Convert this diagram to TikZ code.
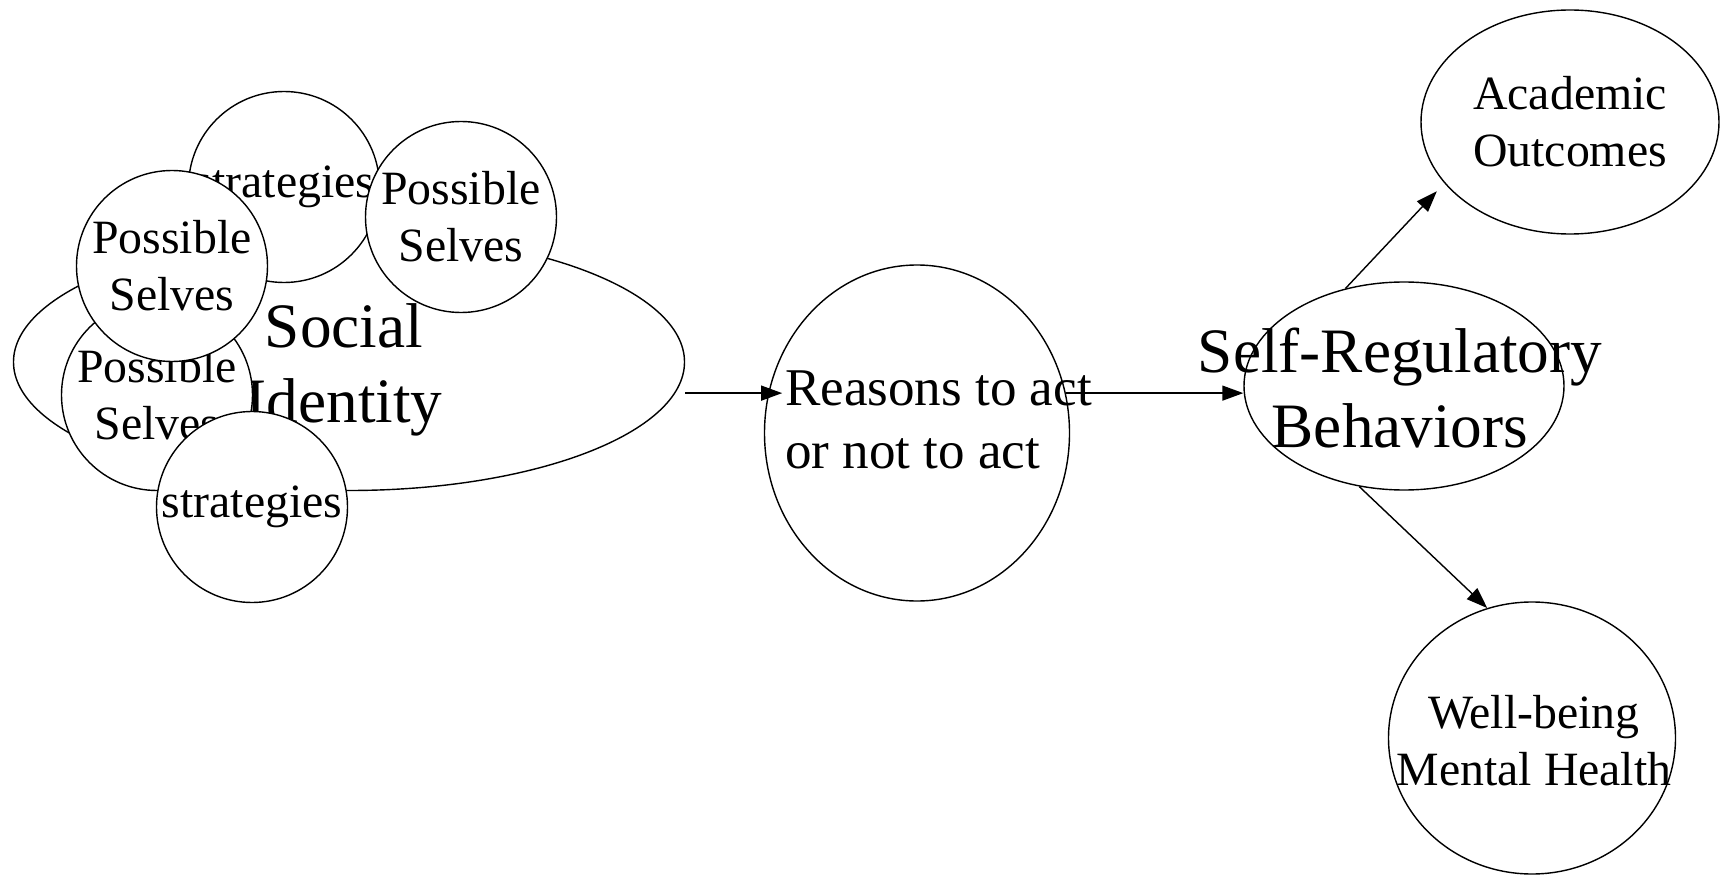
\documentclass[tikz,border=0pt]{standalone}
\usepackage{fontspec}
\setmainfont{Liberation Serif}
\usetikzlibrary{shapes.geometric,arrows.meta}

\begin{document}
\begin{tikzpicture}[
    bubble/.style={draw, ellipse, inner sep=0pt},
    ring/.style={draw, circle, fill=white, minimum size=1.91cm, inner sep=0pt, align=center, font=\fontsize{13.6}{16.2}\selectfont},
    small/.style={align=center, font=\fontsize{13.6}{16.2}\selectfont},
    big/.style={align=center, font=\fontsize{18}{21.4}\selectfont},
    arr/.style={-{Triangle[length=2.1mm, width=1.5mm]}}]

    \useasboundingbox (0,0) rectangle (17.2,-8.75);

    % social identity with its parts
    \node[bubble, minimum width=6.71cm, minimum height=2.57cm] (social) at (3.49,-3.62) {};
    \node[big] (socialtxt) at (3.44,-3.70) {Social\\Identity};
    \node[ring] (strat1) at (2.84,-1.87) {strategies};
    \node[ring] (poss1) at (4.61,-2.17) {Possible\\Selves};
    \node[ring] (poss2) at (1.57,-3.95) {Possible\\Selves};
    \node[ring] (poss3) at (1.72,-2.66) {Possible\\Selves};
    \node[ring] (strat2) at (2.52,-5.07) {strategies};

    % reasons
    \node[bubble, minimum width=3.05cm, minimum height=3.36cm] (reasons) at (9.17,-4.33) {};
    \node[align=left, font=\fontsize{15.1}{18.1}\selectfont] (reasonstxt) at (9.385,-4.20) {Reasons to act\\or not to act};

    % behaviors and outcomes
    \node[bubble, minimum width=3.20cm, minimum height=2.08cm] (selfreg) at (14.04,-3.86) {};
    \node[big] (selfregtxt) at (14.00,-3.88) {Self-Regulatory\\Behaviors};
    \node[bubble, small, minimum width=2.98cm, minimum height=2.24cm] (academic) at (15.70,-1.22) {Academic\\Outcomes};
    \node[bubble, minimum width=2.87cm, minimum height=2.72cm] (wellbeing) at (15.32,-7.38) {};
    \node[small] (wellbeingtxt) at (15.34,-7.41) {Well-being\\Mental Health};

    \draw[arr, shorten >=-1.4mm] (social.east |- reasons.165) -- (reasons.165);
    \draw[arr] (reasons.15) -- (reasons.15 -| selfreg.west);
    \draw[arr, shorten >=1.1mm] (selfreg.121) -- (academic.206);
    \draw[arr] (selfreg.246) -- (wellbeing.109);
\end{tikzpicture}
\end{document}
